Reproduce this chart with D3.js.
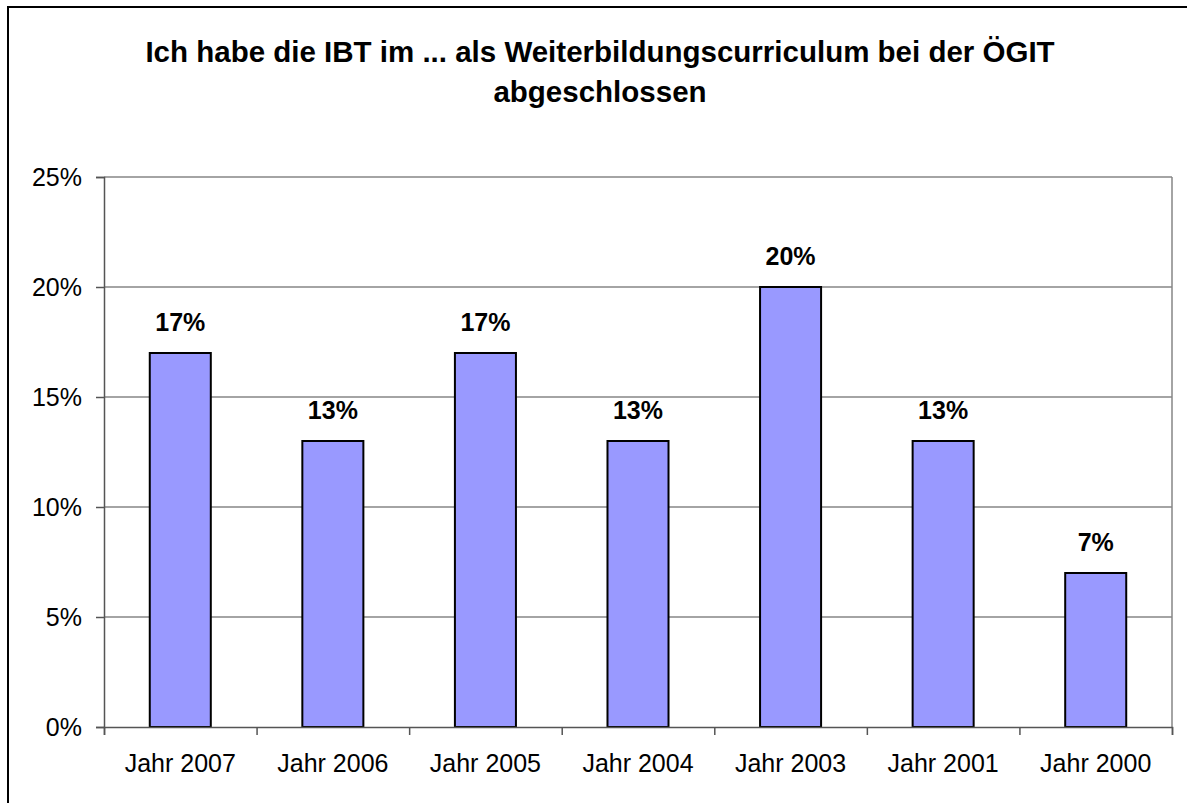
<!DOCTYPE html>
<html>
<head>
<meta charset="utf-8">
<script src="https://cdn.jsdelivr.net/npm/d3@7"></script>
<style>
  body { margin: 0; background: #fff; }
  svg { display: block; font-family: Arial, "Liberation Sans", sans-serif; }
</style>
</head>
<body>
<div id="chart"></div>
<script>
// Chart data
const categories = ["Jahr 2007", "Jahr 2006", "Jahr 2005", "Jahr 2004", "Jahr 2003", "Jahr 2001", "Jahr 2000"];
const values = [17, 13, 17, 13, 20, 13, 7];
const yTicks = [0, 5, 10, 15, 20, 25];
const titleLines = ["Ich habe die IBT im ... als Weiterbildungscurriculum bei der ÖGIT", "abgeschlossen"];

const width = 1187, height = 803;
const margin = {left: 104, right: 15, top: 177, bottom: 76};

const svg = d3.select("#chart")
    .append("svg")
    .attr("width", width)
    .attr("height", height);

// Outer chart frame (runs past the right and bottom edges)
svg.append("rect")
    .attr("x", 8)
    .attr("y", 7)
    .attr("width", 1300)
    .attr("height", 900)
    .attr("fill", "none")
    .attr("stroke", "#000")
    .attr("stroke-width", 2);

// Title
svg.append("g")
    .selectAll("text")
    .data(titleLines)
    .join("text")
    .attr("x", 600)
    .attr("y", (d, i) => 62 + i * 40)
    .attr("text-anchor", "middle")
    .style("font-size", "29.5px")
    .style("font-weight", "bold")
    .text(d => d);

const innerW = width - margin.left - margin.right;
const innerH = height - margin.top - margin.bottom;

const x = d3.scaleBand()
    .domain(categories)
    .range([0, innerW])
    .paddingInner(0.6)
    .paddingOuter(0.3);

const y = d3.scaleLinear()
    .domain([0, 25])
    .range([innerH, 0]);

const g = svg.append("g")
    .attr("transform", `translate(${margin.left},${margin.top})`);

// Gridlines
g.selectAll(".grid")
    .data(yTicks.filter(d => d > 0))
    .join("line")
    .attr("class", "grid")
    .attr("x1", 0)
    .attr("x2", innerW)
    .attr("y1", d => y(d))
    .attr("y2", d => y(d))
    .attr("stroke", "#868686")
    .attr("stroke-width", 1.5);

// Right edge of plot area
g.append("line")
    .attr("x1", innerW)
    .attr("x2", innerW)
    .attr("y1", 0)
    .attr("y2", innerH)
    .attr("stroke", "#868686")
    .attr("stroke-width", 1.5);

// Bars
g.selectAll(".bar")
    .data(values)
    .join("rect")
    .attr("class", "bar")
    .attr("x", (d, i) => x(categories[i]))
    .attr("y", d => y(d))
    .attr("width", x.bandwidth())
    .attr("height", d => innerH - y(d))
    .attr("fill", "#9999ff")
    .attr("stroke", "#000")
    .attr("stroke-width", 2);

// Data labels
g.selectAll(".label")
    .data(values)
    .join("text")
    .attr("class", "label")
    .attr("x", (d, i) => x(categories[i]) + x.bandwidth() / 2)
    .attr("y", d => y(d) - 22)
    .attr("text-anchor", "middle")
    .style("font-size", "25px")
    .style("font-weight", "bold")
    .text(d => d + "%");

// Y axis
const yAxis = g.append("g")
    .call(d3.axisLeft(y).tickValues(yTicks).tickFormat(d => d + "%").tickSize(8).tickPadding(14));

// X axis with ticks at category boundaries
const xEdge = d3.scaleLinear().domain([0, categories.length]).range([0, innerW]);
const xAxis = g.append("g")
    .attr("transform", `translate(0,${innerH})`)
    .call(d3.axisBottom(xEdge).tickValues(d3.range(categories.length + 1)).tickFormat("").tickSize(8));

g.append("g")
    .selectAll("text")
    .data(categories)
    .join("text")
    .attr("x", d => x(d) + x.bandwidth() / 2)
    .attr("y", innerH + 45)
    .attr("text-anchor", "middle")
    .style("font-size", "25px")
    .text(d => d);

[yAxis, xAxis].forEach(ax => {
    ax.select(".domain").attr("stroke", "#555").attr("stroke-width", 1.5);
    ax.selectAll(".tick line").attr("stroke", "#555").attr("stroke-width", 1.5);
    ax.selectAll(".tick text").style("font-size", "25px").attr("fill", "#000")
        .style("font-family", "Arial, 'Liberation Sans', sans-serif");
});
</script>
</body>
</html>
